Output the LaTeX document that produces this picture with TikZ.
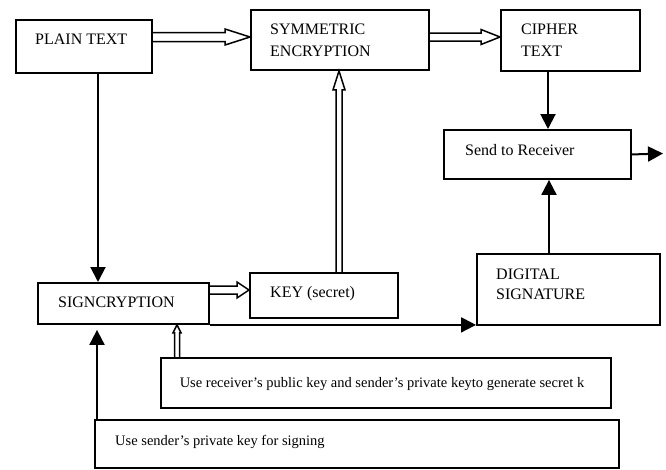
\documentclass[tikz,border=0pt]{standalone}
\usepackage{fontspec}
\setmainfont{Liberation Serif}
\usetikzlibrary{arrows.meta,calc}
\tikzset{
  box/.style={draw,line width=1.9pt,rectangle,inner sep=0pt,anchor=north west},
  lbl/.style={anchor=base west,inner sep=0pt,font=\fontsize{16}{19}\selectfont},
  lbls/.style={anchor=base west,inner sep=0pt,font=\fontsize{14.5}{17}\selectfont},
  arr/.style={line width=2pt,-{Triangle[length=15pt,width=15pt]}},
  hol/.style={line width=1.5pt,line join=miter}
}
% rightward hollow arrow: start, end, shaft half, head half, head length
\newcommand\hollowR[5]{\draw[hol] let \p1=(#1), \p2=(#2) in
  (\x1,\y1+#3) -- (\x2-#5,\y1+#3) -- (\x2-#5,\y1+#4) -- (\x2,\y1) -- (\x2-#5,\y1-#4) -- (\x2-#5,\y1-#3) -- (\x1,\y1-#3);}
% upward hollow arrow
\newcommand\hollowU[5]{\draw[hol] let \p1=(#1), \p2=(#2) in
  (\x1-#3,\y1) -- (\x1-#3,\y2-#5) -- (\x1-#4,\y2-#5) -- (\x1,\y2) -- (\x1+#4,\y2-#5) -- (\x1+#3,\y2-#5) -- (\x1+#3,\y1);}
\begin{document}
\begin{tikzpicture}[x=1pt,y=-1pt]
\useasboundingbox (0,0) rectangle (666,469);
% boxes
\node[box,minimum width=136pt,minimum height=53pt] (plain) at (15,19) {};
\node[box,minimum width=178pt,minimum height=60pt] (symm) at (250,9) {};
\node[box,minimum width=139pt,minimum height=61pt] (cipher) at (500,9) {};
\node[box,minimum width=187pt,minimum height=49pt] (send) at (443,129) {};
\node[box,minimum width=183pt,minimum height=71pt] (digital) at (476,253) {};
\node[box,minimum width=171pt,minimum height=41pt] (sign) at (37,282) {};
\node[box,minimum width=148pt,minimum height=45pt] (key) at (249,272) {};
\node[box,minimum width=450pt,minimum height=50pt] (pub) at (160,357) {};
\node[box,minimum width=524pt,minimum height=48pt] (priv) at (94,419) {};
% labels
\node[lbl] (tplain) at (35,44) {PLAIN TEXT};
\node[lbl] (tsymm1) at (270,34) {SYMMETRIC};
\node[lbl] (tsymm2) at (270,56) {ENCRYPTION};
\node[lbl] (tciph1) at (521,34) {CIPHER};
\node[lbl] (tciph2) at (521,56) {TEXT};
\node[lbl] (tsend) at (465,155) {Send to Receiver};
\node[lbl] (tdig1) at (496,279) {DIGITAL};
\node[lbl] (tdig2) at (496,299) {SIGNATURE};
\node[lbl] (tsign) at (58,307) {SIGNCRYPTION};
\node[lbl] (tkey) at (270,297) {KEY (secret)};
\node[lbls,anchor=base] (tpub) at (382,387) {Use receiver’s public key and sender’s private keyto generate secret k};
\node[lbls] (tpriv) at (115,445) {Use sender’s private key for signing};
% hollow arrows
\coordinate (h1a) at (plain.east |- 0,37);
\coordinate (h1b) at (symm.west |- 0,37);
\hollowR{h1a}{h1b}{4.5pt}{8pt}{25pt}
\coordinate (h2a) at (symm.east |- 0,37);
\coordinate (h2b) at (cipher.west |- 0,37);
\hollowR{h2a}{h2b}{4pt}{7.5pt}{19pt}
\coordinate (h3a) at (sign.east |- 0,290);
\coordinate (h3b) at (key.west |- 0,290);
\hollowR{h3a}{h3b}{4pt}{8pt}{12pt}
\coordinate (h4a) at (key.north -| 339,0);
\coordinate (h4b) at (symm.south -| 339,0);
\hollowU{h4a}{h4b}{3pt}{6pt}{19pt}
\coordinate (h5a) at (pub.north -| 177,0);
\coordinate (h5b) at (sign.south -| 177,0);
\hollowU{h5a}{h5b}{2.5pt}{4pt}{8pt}
% solid arrows
\draw[arr] (plain.south -| 98,0) -- (sign.north -| 98,0);
\draw[arr] (cipher.south -| 548,0) -- (send.north -| 548,0);
\draw[arr] (digital.north -| 549,0) -- (send.south -| 549,0);
\coordinate (out) at (663,153.5);
\draw[arr] (send.east) -- (out);
\draw[arr] (sign.south east) -- (sign.south east -| digital.west);
\draw[arr,shorten >=5pt] (priv.north -| 97,0) -- (sign.south -| 97,0);
\end{tikzpicture}
\end{document}
